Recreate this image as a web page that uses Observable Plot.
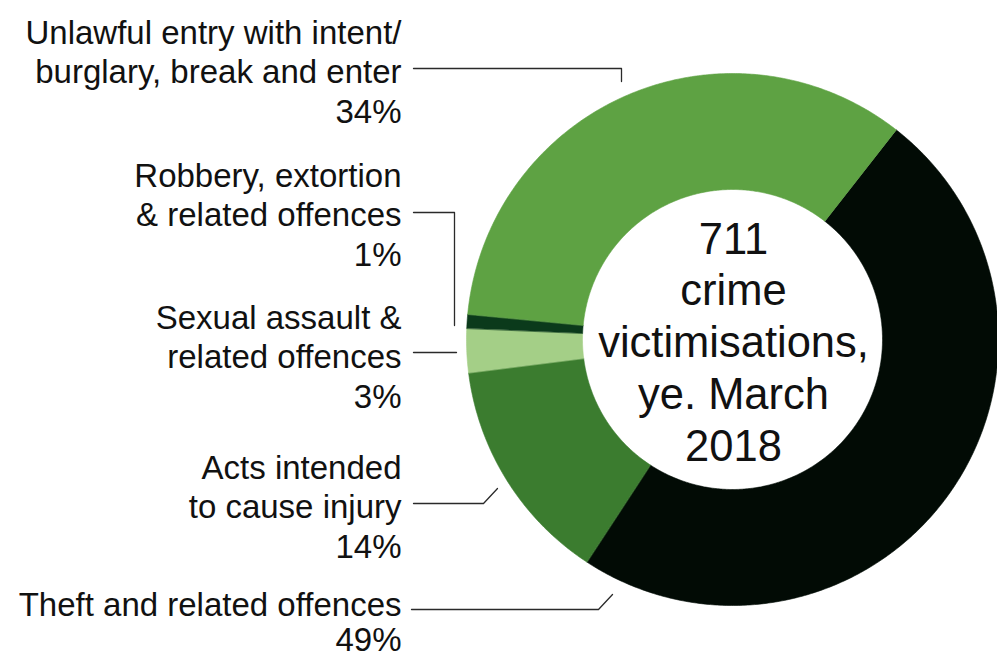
<!DOCTYPE html>
<html>
<head>
<meta charset="utf-8">
<script src="https://cdn.jsdelivr.net/npm/d3@7"></script>
<script src="https://cdn.jsdelivr.net/npm/@observablehq/plot@0.6"></script>
<style>
  html, body { margin: 0; padding: 0; background: #ffffff; }
  #chart { width: 997px; height: 657px; }
</style>
</head>
<body>
<div id="chart"></div>
<script>
// ---- data (label order, top to bottom) ----
const categories = [
  "Unlawful entry with intent/\nburglary, break and enter",
  "Robbery, extortion\n& related offences",
  "Sexual assault &\nrelated offences",
  "Acts intended\nto cause injury",
  "Theft and related offences"
];
const counts = [242, 6, 19, 98, 346];          // (total 711)
const percentLabels = ["34%", "1%", "3%", "14%", "49%"];
const colors = ["#5ea243", "#0b3a1b", "#a4cf87", "#3b7c2f", "#020b05"];
const centerLines = ["711", "crime", "victimisations,", "ye. March", "2018"];

// ---- layout ----
const W = 997, H = 657;
const cx = 732, cy = 339, rOuter = 266, rInner = 150;
const startDeg = 38;
const labelX = 401;
const labelY = [70, 213, 355, 505, 622];
const labelLH = [1.2, 1.2, 1.2, 1.2, 1.05];
const leaders = [
  [[413, 68], [621, 68], [621, 81]],
  [[413, 212], [454, 212], [454, 325]],
  [[413, 352], [456, 352]],
  [[413, 503], [483, 503], [497, 488]],
  [[411, 609], [598, 609], [612, 594]]
];

// ---- slices (clockwise from Theft) ----
const order = d3.range(categories.length).reverse();
const pie = d3.pie().sort(null).value(i => counts[i])
  .startAngle(startDeg * Math.PI / 180)
  .endAngle((startDeg + 360) * Math.PI / 180);
const arcs = pie(order);
const polyPts = [];
for (const a of arcs) {
  const name = categories[a.data];
  const n = Math.max(4, Math.ceil((a.endAngle - a.startAngle) / (Math.PI / 360)));
  for (let k = 0; k <= n; k++) {
    const t = a.startAngle + (a.endAngle - a.startAngle) * k / n;
    polyPts.push({name, x: cx + rOuter * Math.sin(t), y: cy - rOuter * Math.cos(t)});
  }
  for (let k = n; k >= 0; k--) {
    const t = a.startAngle + (a.endAngle - a.startAngle) * k / n;
    polyPts.push({name, x: cx + rInner * Math.sin(t), y: cy - rInner * Math.cos(t)});
  }
}

const labels = categories.map((c, i) => ({text: c + "\n" + percentLabels[i], x: labelX, y: labelY[i], lh: labelLH[i]}));
const leaderPts = leaders.flatMap((pts, i) => pts.map(([x, y]) => ({id: i, x, y})));

const font = "'Liberation Sans', Arial, Helvetica, sans-serif";

const textMarks = labels.map(l =>
  Plot.text([l], {x: "x", y: "y", text: "text", textAnchor: "end", lineAnchor: "middle", lineHeight: l.lh, fontSize: 33, fill: "#111111"})
);

const chart = Plot.plot({
  width: W, height: H,
  margin: 0,
  style: {background: "#ffffff", fontFamily: font},
  x: {domain: [0, W], range: [0, W], axis: null},
  y: {domain: [0, H], range: [0, H], axis: null},
  color: {domain: categories, range: colors},
  marks: [
    Plot.line(polyPts, {x: "x", y: "y", z: "name", fill: "name", stroke: "name", strokeWidth: 0.6, curve: "linear-closed"}),
    Plot.line(leaderPts, {x: "x", y: "y", z: "id", stroke: "#2a2a2a", strokeWidth: 1.3}),
    ...textMarks,
    Plot.text([centerLines.join("\n")], {x: cx + 1, y: cy + 1, text: d => d, textAnchor: "middle", lineAnchor: "middle", lineHeight: 1.19, fontSize: 43.5, fill: "#111111"})
  ]
});
document.getElementById("chart").appendChild(chart);
</script>
</body>
</html>
